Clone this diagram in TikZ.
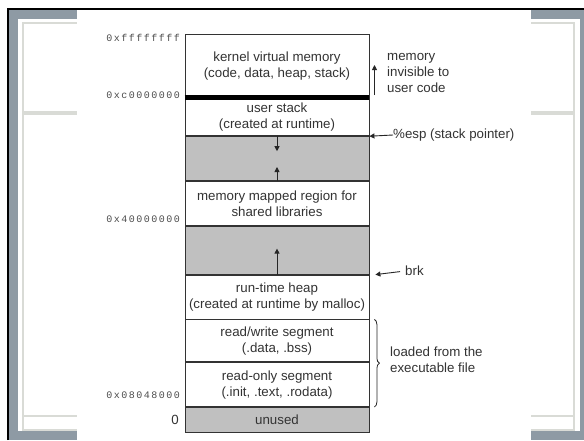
\documentclass[tikz,border=0pt]{standalone}
\usepackage{fontspec}
\setmainfont{Liberation Sans}
\newfontfamily\addrfont[LetterSpace=15]{Liberation Mono}
\usetikzlibrary{arrows.meta,positioning,decorations.pathreplacing}
\definecolor{framegrey}{HTML}{8E9AA4}
\definecolor{paneline}{HTML}{D9DBD6}
\definecolor{holegrey}{HTML}{C0C0C0}
\definecolor{inkgrey}{HTML}{333333}

\begin{document}
\begin{tikzpicture}[x=1pt,y=-1pt,
  every node/.style={font=\fontsize{13.3}{16}\selectfont,text=inkgrey},
  seg/.style={draw=black!80,line width=0.8pt,fill=white,minimum width=184pt,inner sep=1pt,align=center},
  hole/.style={seg,fill=holegrey},
  addr/.style={font=\addrfont\fontsize{10}{10}\selectfont,text=black!70,anchor=east,inner sep=0pt},
  note/.style={anchor=west,align=left,inner sep=0pt},
  ptr/.style={-{Triangle[length=5pt,width=5pt]},line width=0.9pt,black!85}]
\useasboundingbox (0,0) rectangle (584,440);
% window behind the slide
\fill[framegrey] (9,10) rectangle (584,440); \fill[white] (18,19) rectangle (580,431);
\draw[paneline,line width=1.2pt] (23,23) rectangle (574,430) (23,416) -- (574,416);
\fill[paneline] (23,111) rectangle (574,115);
\draw[black,line width=2pt] (7.8,440) -- (7.8,8.8) -- (584,8.8);
\fill[white] (77,10) rectangle (531,440);
% address space, top to bottom
\node[seg,minimum height=63.5pt] (kern) at (277,65.75) {kernel virtual memory\\(code, data, heap, stack)};
\node[seg,minimum height=37.5pt,below=0pt of kern] (ustack) {user stack\\(created at runtime)};
\node[hole,minimum height=44pt,below=0pt of ustack] (gap1) {};
\node[seg,minimum height=44pt,below=0pt of gap1] (mmap) {memory mapped region for\\shared libraries};
\node[hole,minimum height=48pt,below=0pt of mmap] (gap2) {};
\node[seg,minimum height=44pt,below=0pt of gap2] (heap) {run-time heap\\(created at runtime by malloc)};
\node[seg,minimum height=42pt,below=0pt of heap] (rw) {read/write segment\\(.data, .bss)};
\node[seg,minimum height=44pt,below=0pt of rw] (ro) {read-only segment\\(.init, .text, .rodata)};
\node[hole,minimum height=25pt,below=0pt of ro] (unused) {unused};
\draw[line width=5pt] (kern.south west) -- (kern.south east);
% growth arrows
\coordinate (stacktip) at ([yshift=-15pt]gap1.north); \coordinate (mmaptip) at ([yshift=14pt]gap1.south);
\coordinate (heaptip) at ([yshift=26pt]heap.north);
\draw[ptr] (ustack.south) -- (stacktip); \draw[ptr] (mmap.north) -- (mmaptip); \draw[ptr] (heap.north) -- (heaptip);
% addresses
\node[addr] (a1) at (180,38) {0xffffffff}; \node[addr] (a2) at (180,95) {0xc0000000};
\node[addr] (a3) at (180,219) {0x40000000}; \node[addr] (a4) at (180,395) {0x08048000};
\node[anchor=east,inner sep=0pt] (a0) at (179,420) {0};
% notes on the right
\coordinate (kbot) at (374.5,95); \coordinate (ktop) at (374.5,65);
\draw[ptr] (kbot) -- (ktop);
\node[note] (invis) at (387,72.5) {memory\\invisible to\\user code};
\node[note] (esp) at (393,135) {\%esp (stack pointer)};
\draw[ptr] (esp.west) -- (gap1.north east);
\node[note] (brk) at (405,271) {brk};
\draw[ptr,shorten <=5pt] (brk.west) -- ([xshift=6pt]heap.north east);
\draw[decorate,decoration={brace,amplitude=5pt},line width=0.8pt,black!85] ([xshift=5pt]rw.north east) -- ([xshift=5pt]ro.south east);
\node[note] (loaded) at (390,359.5) {loaded from the\\executable file};
\end{tikzpicture}
\end{document}
